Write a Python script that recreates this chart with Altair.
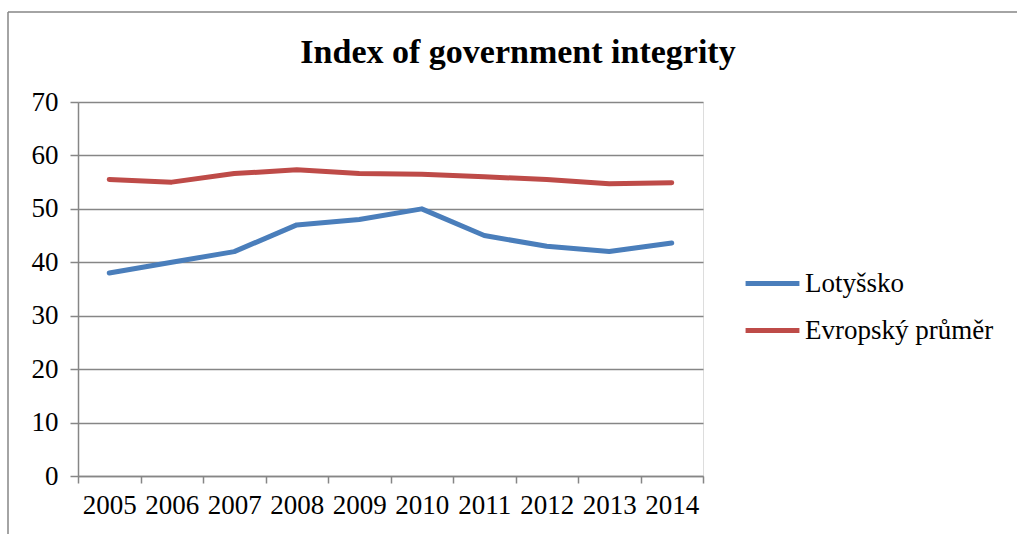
import altair as alt
import pandas as pd

title_text = "Index of government integrity"
years = ["2005", "2006", "2007", "2008", "2009", "2010", "2011", "2012", "2013", "2014"]
latvia = [38.0, 40.0, 42.0, 47.0, 48.0, 50.0, 45.0, 43.0, 42.0, 43.6]
europe = [55.5, 55.0, 56.6, 57.3, 56.6, 56.5, 56.0, 55.5, 54.7, 54.9]
series_names = ["Lotyšsko", "Evropský průměr"]
series_colors = ["#4A7EBB", "#BE4B48"]

rows = []
for name, vals in zip(series_names, [latvia, europe]):
    for y, v in zip(years, vals):
        rows.append({"year": y, "value": v, "series": name})
df = pd.DataFrame(rows)

FONT = "Liberation Serif"
GRAY = "#868686"

lines = alt.Chart(df).mark_line(strokeWidth=5, strokeCap="round", strokeJoin="round").encode(
    x=alt.X("year:O", sort=years, scale=alt.Scale(paddingInner=0, paddingOuter=0),
            axis=alt.Axis(title=None, tickBand="extent", labelAngle=0, labelFontSize=27,
                          labelFont=FONT, labelColor="#000000", labelPadding=9,
                          tickSize=7, tickColor=GRAY, tickWidth=1.5,
                          domainColor=GRAY, domainWidth=1.5, grid=False)),
    y=alt.Y("value:Q", scale=alt.Scale(domain=[0, 70], nice=False),
            axis=alt.Axis(title=None, values=[0, 10, 20, 30, 40, 50, 60, 70],
                          labelFontSize=27, labelFont=FONT, labelColor="#000000",
                          labelPadding=12, tickSize=8, tickColor=GRAY, tickWidth=1.5,
                          domainColor=GRAY, domainWidth=1.5,
                          grid=True, gridColor=GRAY, gridWidth=1.5)),
    color=alt.Color("series:N", sort=series_names,
                    scale=alt.Scale(domain=series_names, range=series_colors),
                    legend=alt.Legend(title=None, orient="none", legendX=665, legendY=158,
                                      symbolType="stroke", symbolSize=2900,
                                      symbolStrokeWidth=5, labelFontSize=27, labelFont=FONT,
                                      labelColor="#000000", labelOffset=3, labelLimit=0,
                                      clipHeight=47, rowPadding=0)),
)

frame_df = pd.DataFrame({"k": [0]})
frame_left = alt.Chart(frame_df).mark_rule(color=GRAY, strokeWidth=1.5).encode(
    x=alt.value(-70), y=alt.value(-90), y2=alt.value(432))
frame_top = alt.Chart(frame_df).mark_rule(color=GRAY, strokeWidth=1.5).encode(
    x=alt.value(-70), x2=alt.value(939), y=alt.value(-90))

title_df = pd.DataFrame({"t": [title_text]})
title = alt.Chart(title_df).mark_text(font=FONT, fontSize=34, fontWeight="bold",
                                      color="#000000", align="center",
                                      baseline="alphabetic").encode(
    text="t:N", x=alt.value(440), y=alt.value(-39))

chart = alt.layer(frame_left, frame_top, title, lines).properties(
    width=625, height=374,
    autosize=alt.AutoSizeParams(type="none"),
    padding={"left": 78, "top": 102, "right": 314, "bottom": 58},
).configure_view(stroke=None).configure(background="white")

chart.save("out.html", embed_options={"renderer": "svg", "actions": False})
